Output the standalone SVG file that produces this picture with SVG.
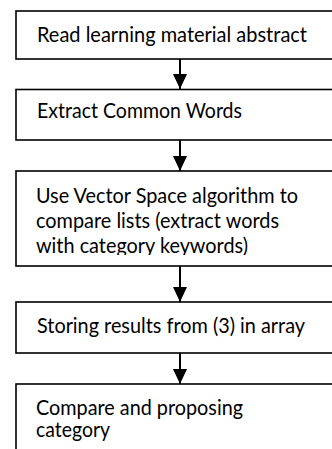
<svg xmlns="http://www.w3.org/2000/svg" width="332" height="449" viewBox="0 0 332 449">
<style>
.box{fill:#fff;stroke:#000;stroke-width:1.6}
.t{font-family:Lato,"Open Sans","Liberation Sans",sans-serif;font-size:20.5px;fill:#000}
.c{stroke:#000;stroke-width:2;fill:none}
</style>
<defs>
<marker id="ah" markerUnits="userSpaceOnUse" markerWidth="16" markerHeight="15" refX="15" refY="7" orient="auto">
<path d="M0,0 L15,7 L0,14 z" fill="#000"/>
</marker>
<clipPath id="clip3"><rect x="16" y="171" width="330" height="84"/></clipPath>
</defs>
<rect width="332" height="449" fill="#fff"/>
<g id="n1">
<rect class="box" x="16" y="11" width="330" height="48"/>
<text class="t" x="37" y="42" textLength="270" lengthAdjust="spacingAndGlyphs">Read learning material abstract</text>
</g>
<g id="n2">
<rect class="box" x="16" y="89.5" width="330" height="50.5"/>
<text class="t" x="37" y="118" textLength="205" lengthAdjust="spacingAndGlyphs">Extract Common Words</text>
</g>
<g id="n3">
<rect class="box" x="16" y="171" width="330" height="95"/>
<g clip-path="url(#clip3)">
<text class="t" x="36" y="203" textLength="262" lengthAdjust="spacingAndGlyphs">Use Vector Space algorithm to</text>
<text class="t" x="36" y="227.5" textLength="243" lengthAdjust="spacingAndGlyphs">compare lists (extract words</text>
<text class="t" x="36" y="252.5" textLength="212" lengthAdjust="spacingAndGlyphs">with category keywords)</text>
</g>
</g>
<g id="n4">
<rect class="box" x="16" y="302" width="330" height="51"/>
<text class="t" x="37" y="333" textLength="268" lengthAdjust="spacingAndGlyphs">Storing results from (3) in array</text>
</g>
<g id="n5">
<rect class="box" x="16" y="384" width="330" height="80"/>
<text class="t" x="36" y="415" textLength="207" lengthAdjust="spacingAndGlyphs">Compare and proposing</text>
<text class="t" x="36" y="437" textLength="74" lengthAdjust="spacingAndGlyphs">category</text>
</g>
<g id="connectors">
<line class="c" x1="180" y1="59" x2="180" y2="89" marker-end="url(#ah)"/>
<line class="c" x1="180" y1="140" x2="180" y2="171" marker-end="url(#ah)"/>
<line class="c" x1="180" y1="266" x2="180" y2="302" marker-end="url(#ah)"/>
<line class="c" x1="180" y1="353" x2="180" y2="384" marker-end="url(#ah)"/>
</g>
</svg>
